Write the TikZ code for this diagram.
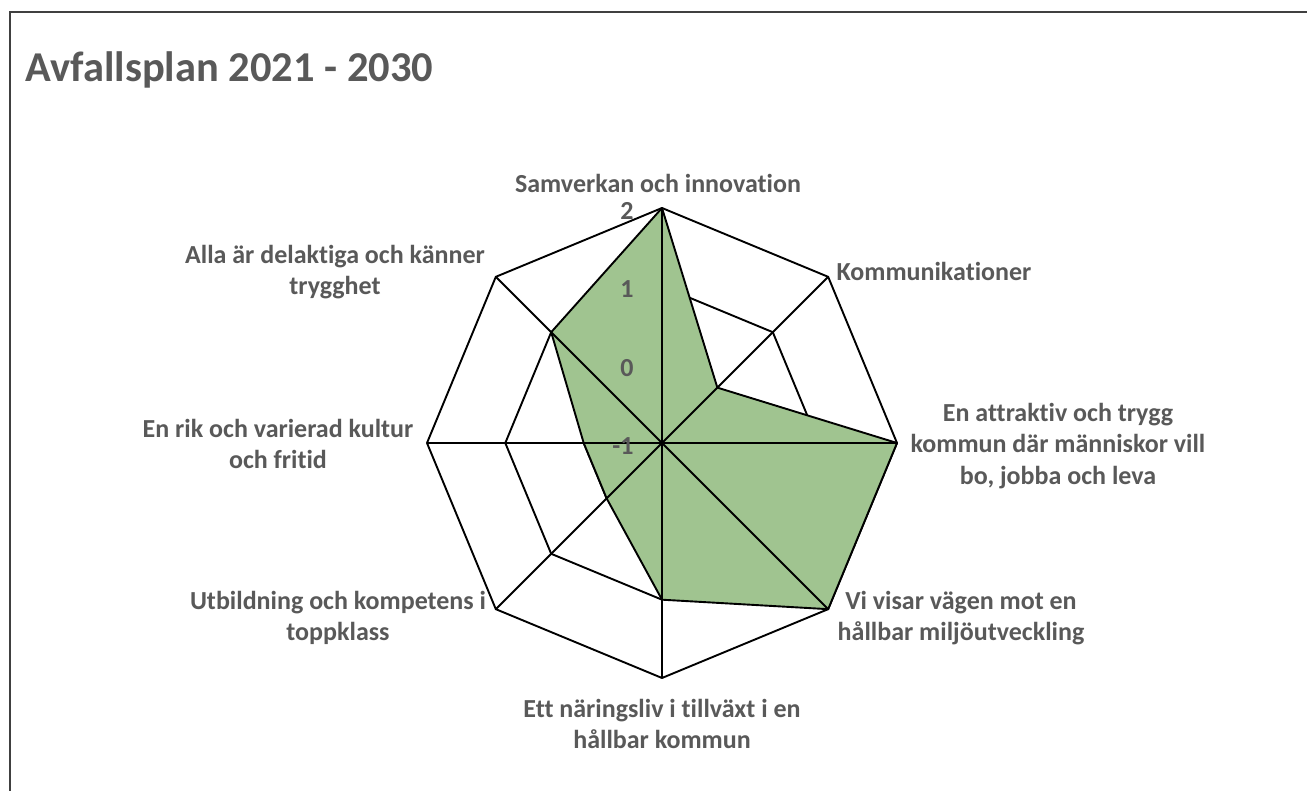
\documentclass[tikz,border=0pt]{standalone}
\usepackage{fontspec}
\setmainfont[Ligatures=NoCommon]{Carlito}
\definecolor{grisTexte}{RGB}{89,89,89}
\definecolor{vertSerie}{RGB}{160,196,144}
\tikzset{
  etiquette/.style={font=\bfseries\fontsize{13}{15.75}\selectfont, text=grisTexte, align=center, inner sep=0pt},
  titre/.style={font=\bfseries\fontsize{21.25}{25}\selectfont, text=grisTexte, inner sep=0pt},
  grille/.style={line width=0.95pt, black, line join=round}
}
\begin{document}
\begin{tikzpicture}[x=0.5pt,y=0.5pt]
  \useasboundingbox[fill=white] (-662,-348) rectangle (645,443);
  \draw[line width=0.9pt, black!75] (645,431) -- (-652,431) -- (-652,-348);
  \node[titre, anchor=base west] (titre) at (-637,361) {Avfallsplan 2021 - 2030};
  % grille
  \foreach \r in {78.3,156.7,235}
    \draw[grille] (90:\r) -- (45:\r) -- (0:\r) -- (-45:\r) -- (-90:\r) -- (-135:\r) -- (180:\r) -- (135:\r) -- cycle;
  % serie
  \def\serie{(90:235) -- (45:78.3) -- (0:235) -- (-45:235) -- (-90:156.7) -- (-135:78.3) -- (180:78.3) -- (135:156.7) -- cycle}
  \draw[grille, fill=vertSerie] \serie;
  % axes
  \foreach \a in {90,45,...,-225}
    \draw[grille] (0,0) -- (\a:235);
  \foreach \v/\r in {2/235,1/156.7,0/78.3,-1/0}
    \node[etiquette, anchor=east] (v\v) at (-28,\r-3) {\v};
  % categories
  \node[etiquette] (sam) at (-4,260) {Samverkan och innovation};
  \node[etiquette] (kom) at (272,172) {Kommunikationer};
  \node[etiquette] (att) at (396,-3) {En attraktiv och trygg\\kommun där människor vill\\bo, jobba och leva};
  \node[etiquette] (vis) at (299,-175) {Vi visar vägen mot en\\hållbar miljöutveckling};
  \node[etiquette] (nar) at (0,-281) {Ett näringsliv i tillväxt i en\\hållbar kommun};
  \node[etiquette] (utb) at (-324,-175) {Utbildning och kompetens i\\toppklass};
  \node[etiquette] (rik) at (-384,-1) {En rik och varierad kultur\\och fritid};
  \node[etiquette] (all) at (-327,171) {Alla är delaktiga och känner\\trygghet};
\end{tikzpicture}
\end{document}
